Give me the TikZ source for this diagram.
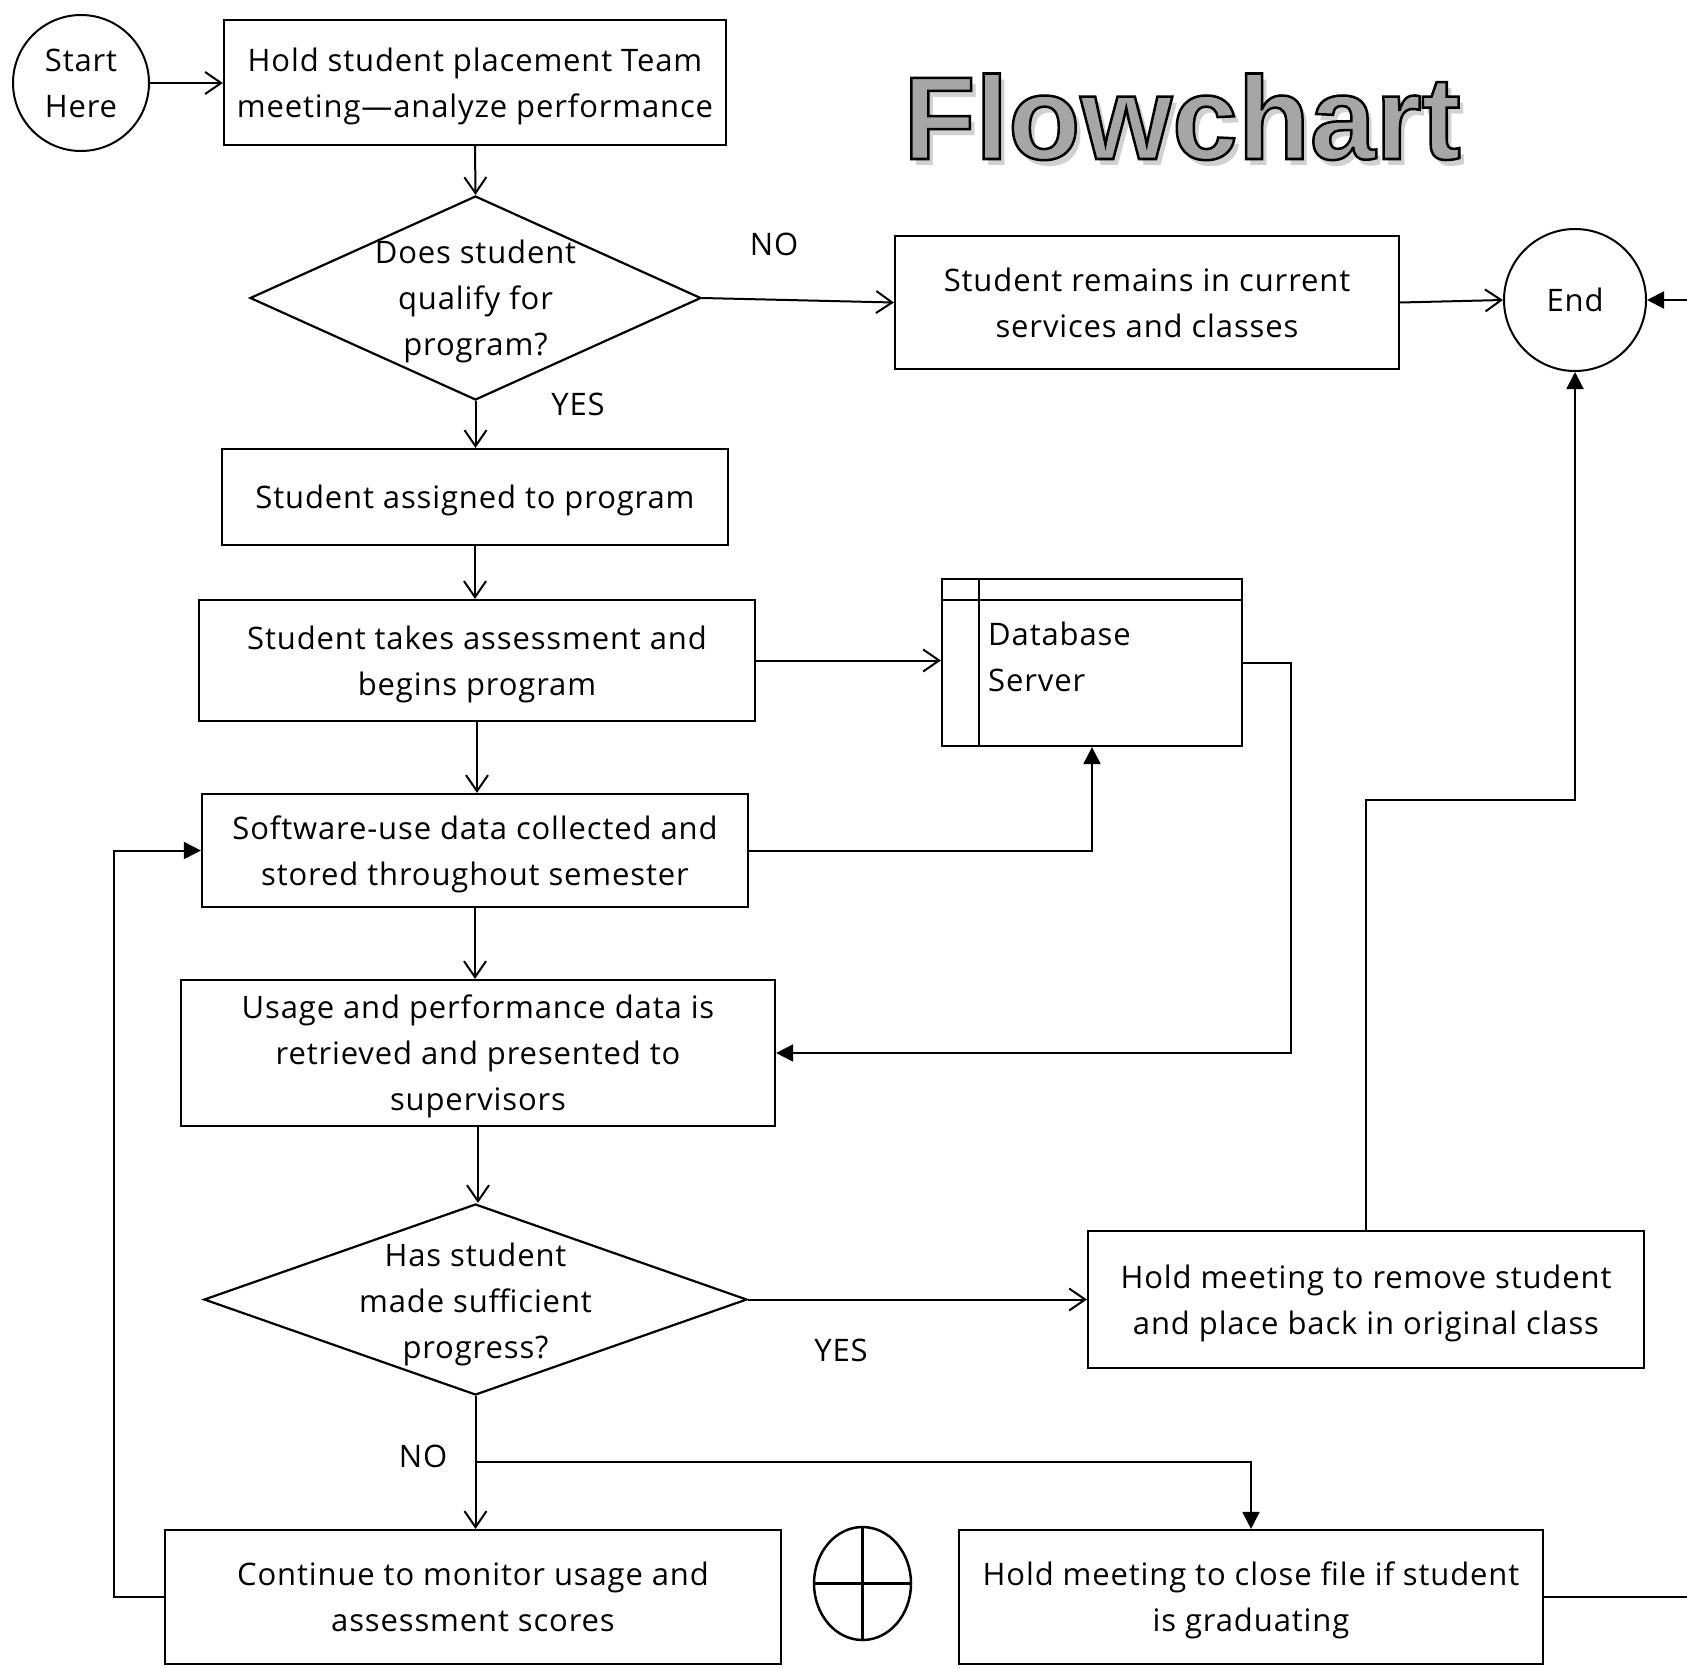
\documentclass[tikz,border=0pt]{standalone}
\usepackage{fontspec}
\setmainfont{Open Sans}[LetterSpace=2.8]
\newfontfamily\fctitlefam{Liberation Sans}
\usetikzlibrary{arrows.meta,shapes.geometric}
\newcommand\fcbody{\fontsize{31}{46}\selectfont}
\newcommand\fctitle{\fctitlefam\bfseries\fontsize{118}{130}\selectfont}
\newcommand\fcshadow[3]{\rlap{\hspace{#1pt}\raisebox{-#2pt}{\color{black!#3}Flowchart}}}
\begin{document}
\begin{tikzpicture}[x=1pt,y=-1pt,
  every node/.style={font=\fcbody},
  box/.style={draw, line width=2.2pt, align=center, inner sep=0pt, text depth=-4pt},
  dia/.style={draw, diamond, line width=2.2pt, inner sep=0pt},
  term/.style={draw, circle, line width=2pt, align=center, inner sep=0pt, text depth=-5pt},
  lbl/.style={inner sep=0pt},
  ln/.style={line width=2pt},
  opena/.style={ln, -{Straight Barb[length=16pt,width=22pt]}},
  filla/.style={ln, -{Triangle[length=17pt,width=17pt]}}]
\useasboundingbox (0,0) rectangle (1687,1668);
\fill[white] (0,0) rectangle (1687,1668);

% nodes
\node[term, minimum size=136pt] (start) at (81,83) {Start\\Here};
\node[box, minimum width=502pt, minimum height=125pt] (box1) at (475,82.5)
  {Hold student placement Team\\meeting—analyze performance};
\node[dia, minimum width=451pt, minimum height=204pt] (d1) at (475.5,298) {};
\node[lbl, align=center] (d1t) at (475.5,301.5) {Does student\\qualify for\\program?};
\node[box, minimum width=504pt, minimum height=133pt] (remain) at (1147,302.5)
  {Student remains in current\\services and classes};
\node[term, minimum size=142pt] (end) at (1575,300) {End};
\node[box, minimum width=506pt, minimum height=96pt] (assigned) at (475,497)
  {Student assigned to program};
\node[box, minimum width=556pt, minimum height=121pt] (takes) at (477,660.5)
  {Student takes assessment and\\begins program};
\node[draw, line width=2.2pt, minimum width=300pt, minimum height=167pt, inner sep=0pt] (db) at (1092,662.5) {};
\draw[line width=2pt] (db.north west) ++(0,22) -- ++(300,0);
\draw[line width=2pt] (db.north west) ++(38,0) -- ++(0,167);
\node[lbl, anchor=west, align=left] (dbt) at (988,657) {Database\\Server};
\node[box, minimum width=546pt, minimum height=113pt] (soft) at (475,850.5)
  {Software-use data collected and\\stored throughout semester};
\node[box, minimum width=594pt, minimum height=146pt] (usage) at (478,1053)
  {Usage and performance data is\\retrieved and presented to\\supervisors};
\node[dia, minimum width=543pt, minimum height=191pt] (d2) at (475.5,1299.5) {};
\node[lbl, align=center] (d2t) at (475.5,1304) {Has student\\made sufficient\\progress?};
\node[box, minimum width=556pt, minimum height=137pt] (remove) at (1366,1299.5)
  {Hold meeting to remove student\\and place back in original class};
\node[box, minimum width=616pt, minimum height=134pt] (cont) at (473,1597)
  {Continue to monitor usage and\\assessment scores};
\node[box, minimum width=584pt, minimum height=134pt] (close) at (1251,1597)
  {Hold meeting to close file if student\\is graduating};
\node[draw, ellipse, line width=2.5pt, minimum width=97pt, minimum height=113pt, inner sep=0pt] (xe) at (862.5,1583.5) {};
\draw[line width=2.5pt] (xe.north) -- (xe.south);
\draw[line width=2.5pt] (xe.west) -- (xe.east);

% labels
\node[lbl] (no1) at (774,244) {NO};
\node[lbl] (yes1) at (578,404) {YES};
\node[lbl] (yes2) at (841,1350) {YES};
\node[lbl] (no2) at (423,1456) {NO};

% free ends
\coordinate (rin) at (1687,300);
\coordinate (rout) at (1687,1597);
\coordinate (turn) at (1575,800);
\coordinate (br) at (475.5,1462);

% connectors
\draw[opena] (start.east) -- (start.east -| box1.west);
\draw[opena] (box1.south) -- (d1.north);
\draw[opena] (d1.east) -- (remain.west);
\draw[opena] (remain.east) -- (end.west);
\draw[filla] (rin) -- (end.east);
\draw[opena] (d1.south) -- (d1.south |- assigned.north);
\draw[opena] (assigned.south) -- (assigned.south |- takes.north);
\draw[opena] (takes.east) -- (takes.east -| db.west);
\draw[opena] (takes.south) -- (takes.south |- soft.north);
\draw[filla] (soft.east) -| (db.south);
\draw[filla] (db.east) -- ++(48,0) |- (usage.east);
\draw[opena] (soft.south) -- (soft.south |- usage.north);
\draw[opena] (usage.south) -- (usage.south |- d2.north);
\draw[opena] (d2.east) -- (remove.west);
\draw[filla] (remove.north) |- (turn) -- (end.south);
\draw[opena] (d2.south) -- (d2.south |- cont.north);
\draw[filla] (br) -| (close.north);
\draw[filla] (cont.west) -- ++(-50,0) |- (soft.west);
\draw[ln] (close.east) -- (rout);

% title (soft shadow + outlined gray text in one node)
\node[font=\fctitle, anchor=base] (title) at (1182,159)
  {\fcshadow{5}{6}{18}\special{pdf:code q 2 Tr 2.5 w 0 G 0.65 g}Flowchart\special{pdf:code Q}};
\end{tikzpicture}
\end{document}
